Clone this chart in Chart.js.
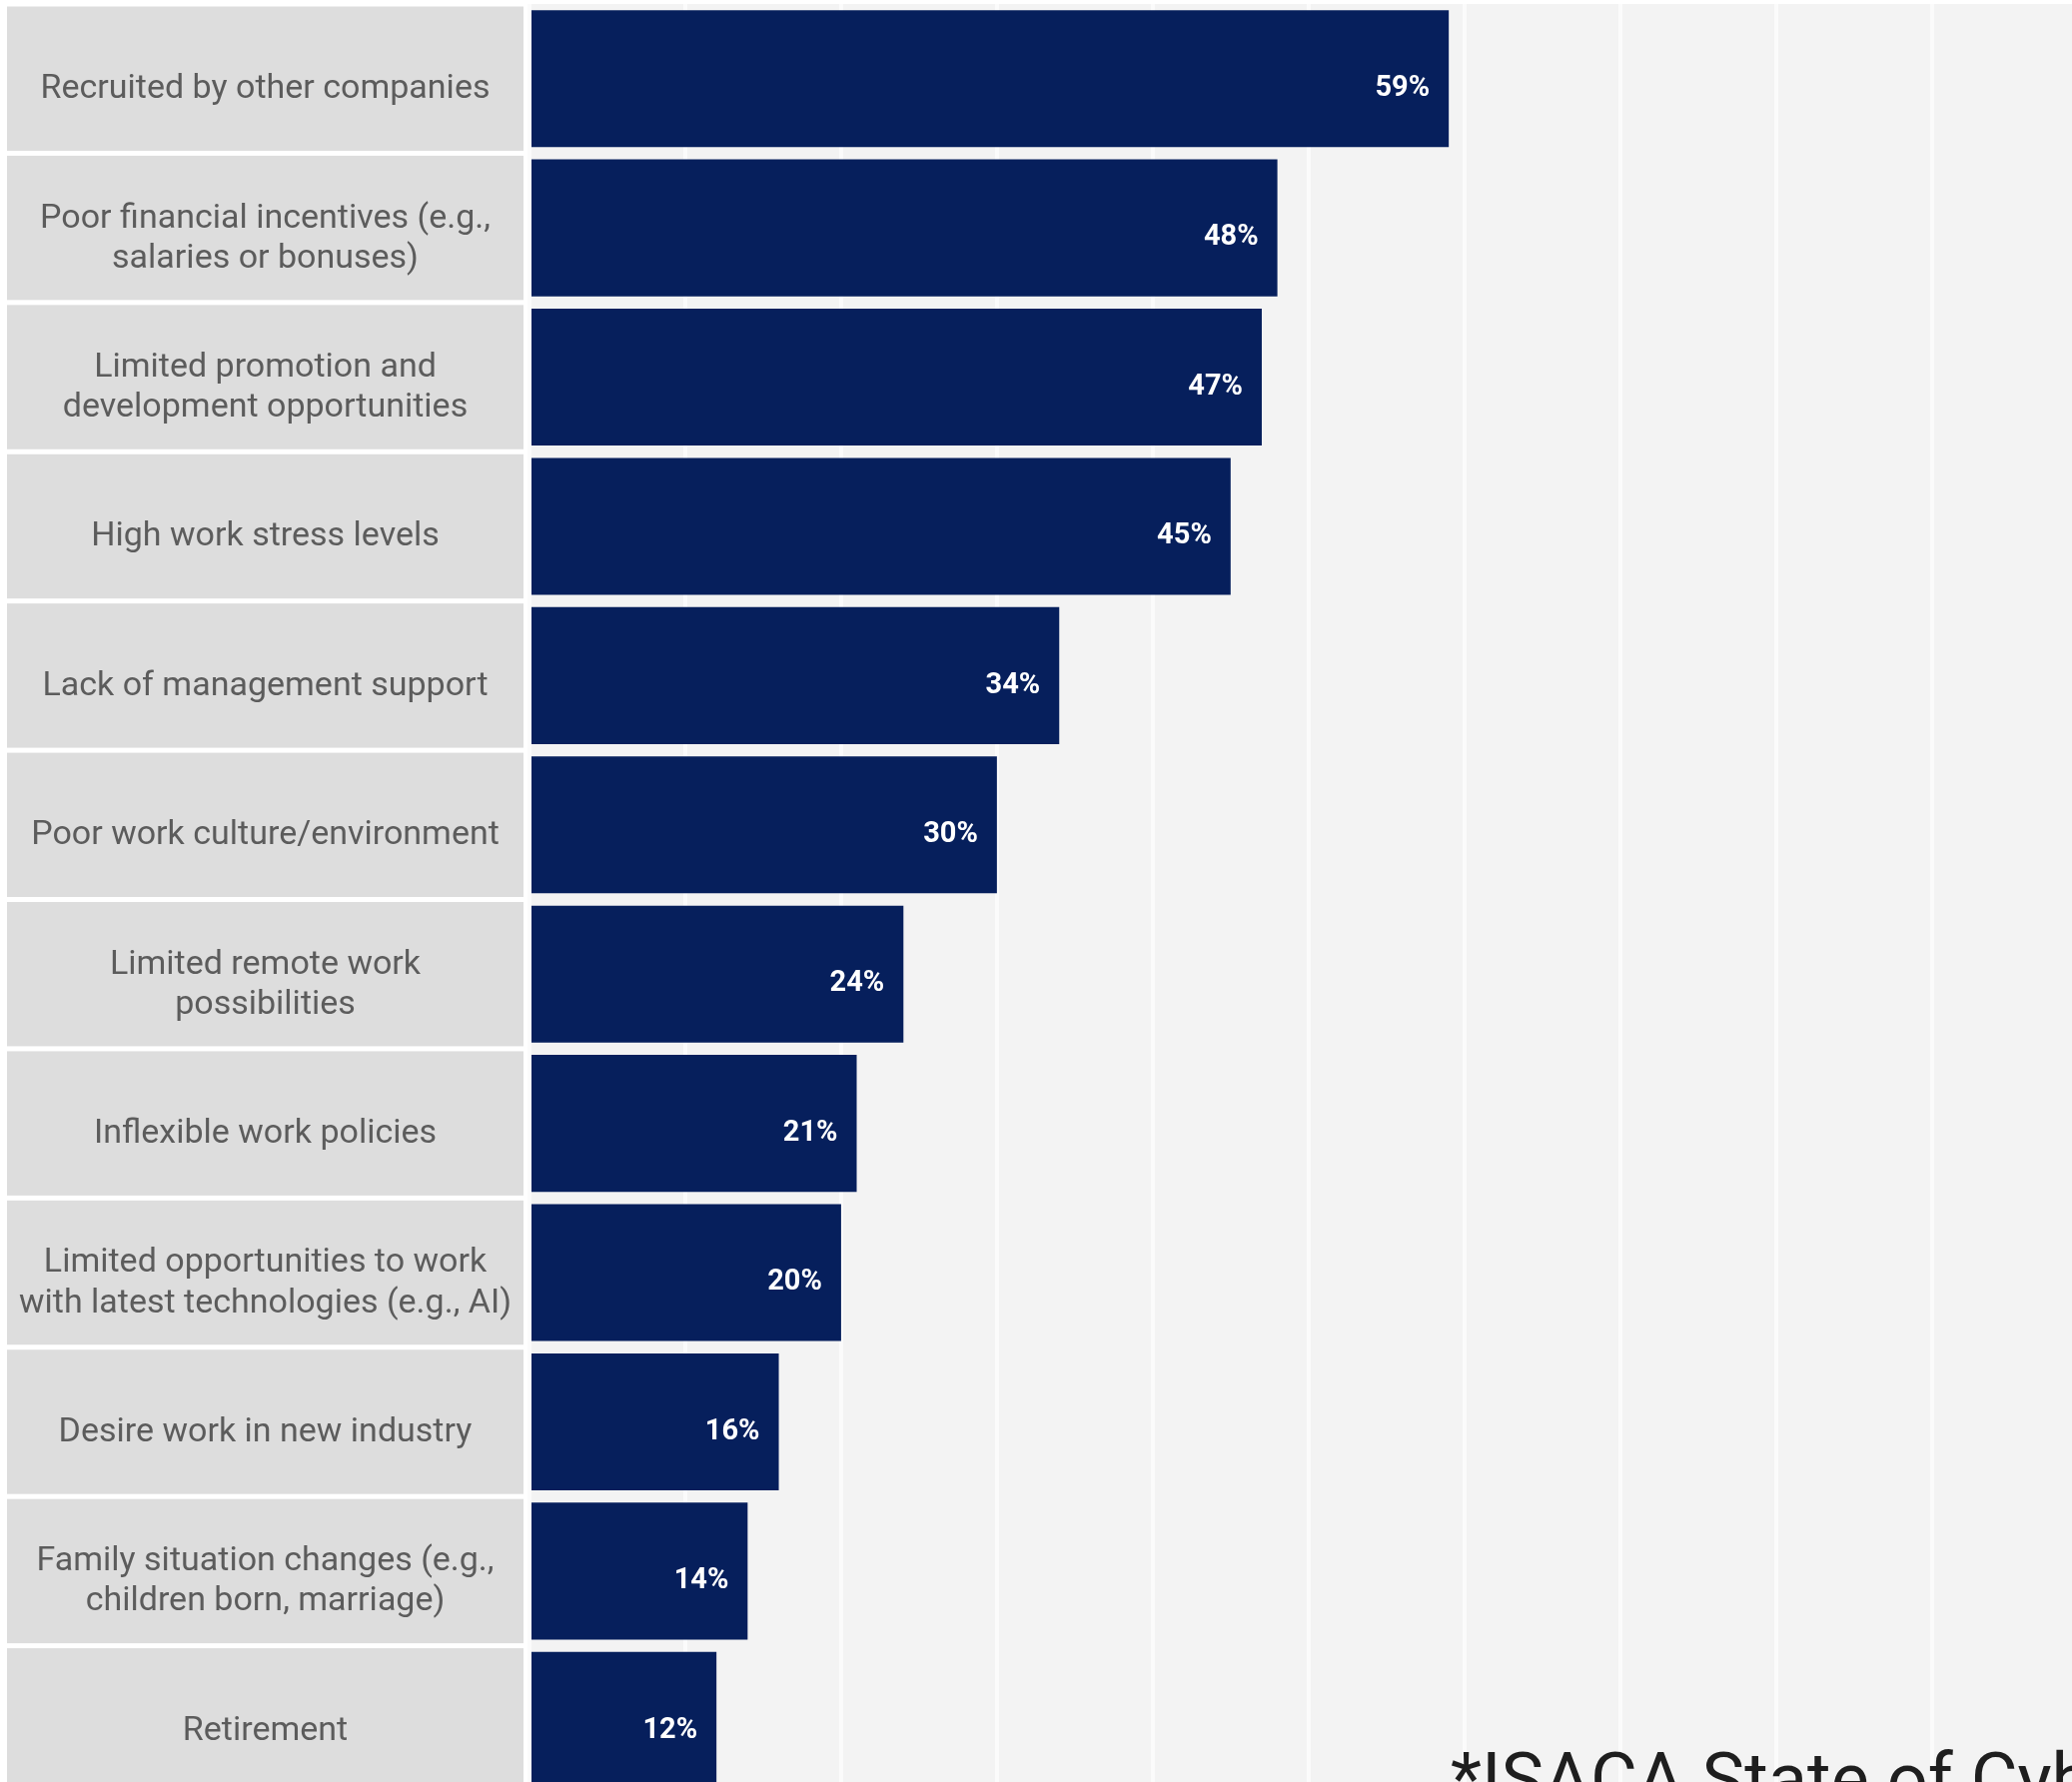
<!DOCTYPE html>
<html>
<head>
<meta charset="utf-8">
<script src="https://cdn.jsdelivr.net/npm/chart.js@4"></script>
<style>
  html, body { margin: 0; padding: 0; background: #ffffff; overflow: hidden; }
  #wrap { position: relative; width: 2074px; height: 1784px; overflow: hidden; }
  #note {
    position: absolute; left: 1452px; top: 1746px;
    font: 400 72px Roboto, sans-serif; line-height: 72px;
    color: #1e1e1e; white-space: nowrap;
  }
</style>
</head>
<body>
<div id="wrap">
  <canvas id="chart" width="2074" height="1797"></canvas>
  <div id="note">*ISACA State of Cybersecurity 2024</div>
</div>
<script>
// Data
const reasons = [
    'Recruited by other companies',
    ['Poor financial incentives (e.g.,', 'salaries or bonuses)'],
    ['Limited promotion and', 'development opportunities'],
    'High work stress levels',
    'Lack of management support',
    'Poor work culture/environment',
    ['Limited remote work', 'possibilities'],
    'Inflexible work policies',
    ['Limited opportunities to work', 'with latest technologies (e.g., AI)'],
    'Desire work in new industry',
    ['Family situation changes (e.g.,', 'children born, marriage)'],
    'Retirement'
];
const percents = [59, 48, 47, 45, 34, 30, 24, 21, 20, 16, 14, 12];

// Layout
const axisWidth = 530;      // left label column
const panelLeft = 7;
const panelRight = 524;
const labelFont = { family: 'Roboto', size: 34, lineHeight: 1.18 };

// Work out tick padding so labels end up centred in the grey panel
const canvas = document.getElementById('chart');
const ctx = canvas.getContext('2d');
ctx.font = labelFont.size + 'px ' + labelFont.family;
let widest = 0;
reasons.forEach((r) => {
    [].concat(r).forEach((line) => {
        widest = Math.max(widest, ctx.measureText(line).width);
    });
});
const panelCenter = (panelLeft + panelRight) / 2 + 8; // nudge, measured widest differs a bit
const tickPad = axisWidth - panelCenter - widest / 2;

// Grey plot background + label panels
const backgroundPlugin = {
    id: 'background',
    beforeDraw(chart) {
        const { ctx, chartArea, scales } = chart;
        ctx.save();
        ctx.fillStyle = '#f3f3f3';
        ctx.fillRect(chartArea.left, chartArea.top, chartArea.right - chartArea.left, chartArea.bottom - chartArea.top);

        const y = scales.y;
        const step = (chartArea.bottom - chartArea.top) / reasons.length;
        ctx.fillStyle = '#dddddd';
        reasons.forEach((_, i) => {
            const cy = y.getPixelForTick(i);
            ctx.fillRect(panelLeft, cy - step / 2 + 2.5, panelRight - panelLeft, step - 5);
        });
        ctx.restore();
    }
};

// Value labels inside the bar ends
const valuePlugin = {
    id: 'values',
    afterDatasetsDraw(chart) {
        const { ctx } = chart;
        const meta = chart.getDatasetMeta(0);
        ctx.save();
        ctx.fillStyle = '#ffffff';
        ctx.font = 'bold 29px Roboto';
        ctx.textAlign = 'right';
        ctx.textBaseline = 'middle';
        meta.data.forEach((bar, i) => {
            ctx.fillText(percents[i] + '%', bar.x - 19, bar.y + 10);
        });
        ctx.restore();
    }
};

const chart = new Chart(ctx, {
    type: 'bar',
    data: {
        labels: reasons,
        datasets: [{
            data: percents,
            backgroundColor: '#061f5c',
            borderWidth: 0,
            barPercentage: 0.917,
            categoryPercentage: 1.0
        }]
    },
    options: {
        indexAxis: 'y',
        responsive: false,
        devicePixelRatio: 1,
        animation: false,
        layout: { padding: { top: 4, left: 0, right: 0, bottom: 0 } },
        plugins: {
            legend: { display: false },
            tooltip: { enabled: false }
        },
        scales: {
            x: {
                min: 0,
                max: 99,
                border: { display: false },
                grid: { color: '#fbfbfb', lineWidth: 4, drawTicks: false },
                ticks: { display: false, stepSize: 10, includeBounds: false },
                afterFit(scale) {
                    scale.height = 0;
                    scale.paddingLeft = 0;
                    scale.paddingRight = 0;
                }
            },
            y: {
                border: { display: false },
                grid: { display: false },
                ticks: {
                    color: '#5c5c5c',
                    font: labelFont,
                    crossAlign: 'center',
                    padding: tickPad,
                    labelOffset: 11,
                    autoSkip: false
                },
                afterFit(scale) {
                    scale.width = axisWidth;
                    scale.paddingTop = 0;
                    scale.paddingBottom = 0;
                }
            }
        }
    },
    plugins: [backgroundPlugin, valuePlugin]
});
</script>
</body>
</html>
